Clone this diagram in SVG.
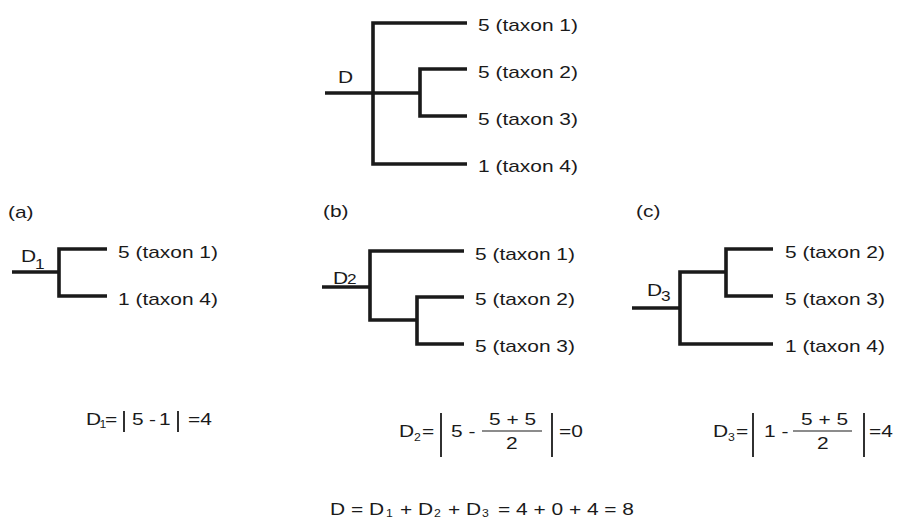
<svg xmlns="http://www.w3.org/2000/svg" width="898" height="518" viewBox="0 0 898 518">
<style>
text{font-family:"Liberation Sans",Arial,sans-serif;font-size:17px;fill:#1a1a1a}
text.sub{font-size:14px}
text.ss{font-size:10px}
.br{fill:none;stroke:#1a1a1a;stroke-width:3.6;stroke-linejoin:miter;stroke-linecap:butt}
.bar{stroke:#1a1a1a;stroke-width:1.8}
.frac{stroke:#1a1a1a;stroke-width:1.2}
</style>
<rect width="898" height="518" fill="#fff"/>
<g id="connectors">
  <path class="br" d="M325,93 H420"/>
  <path class="br" d="M467,23 H373 V164 H467"/>
  <path class="br" d="M467,69 H420 V116 H467"/>
  <path class="br" d="M12,272 H59"/>
  <path class="br" d="M107,249 H59 V296 H107"/>
  <path class="br" d="M322,287 H370"/>
  <path class="br" d="M464,251 H370 V320 H417"/>
  <path class="br" d="M464,297 H417 V344 H464"/>
  <path class="br" d="M632,308 H680"/>
  <path class="br" d="M726,272 H680 V344 H773"/>
  <path class="br" d="M773,249 H726 V296 H773"/>
</g>
<g id="tree-top">
  <text transform="matrix(1.23 0 0 1 338 83)">D</text>
  <text transform="matrix(1.23 0 0 1 478 31)">5 (taxon 1)</text>
  <text transform="matrix(1.23 0 0 1 478 78)">5 (taxon 2)</text>
  <text transform="matrix(1.23 0 0 1 478 125)">5 (taxon 3)</text>
  <text transform="matrix(1.23 0 0 1 478 172)">1 (taxon 4)</text>
</g>
<g id="tree-a">
  <text transform="matrix(1.23 0 0 1 8 218)">(a)</text>
  <text transform="matrix(1.23 0 0 1 21 262)">D</text>
  <text class="sub" transform="matrix(1.23 0 0 1 35 269)">1</text>
  <text transform="matrix(1.23 0 0 1 118 258)">5 (taxon 1)</text>
  <text transform="matrix(1.23 0 0 1 118 305)">1 (taxon 4)</text>
</g>
<g id="tree-b">
  <text transform="matrix(1.23 0 0 1 323 217)">(b)</text>
  <text transform="matrix(1.23 0 0 1 333 284)">D</text>
  <text class="sub" transform="matrix(1.23 0 0 1 347 284)">2</text>
  <text transform="matrix(1.23 0 0 1 475 260)">5 (taxon 1)</text>
  <text transform="matrix(1.23 0 0 1 475 305)">5 (taxon 2)</text>
  <text transform="matrix(1.23 0 0 1 475 352)">5 (taxon 3)</text>
</g>
<g id="tree-c">
  <text transform="matrix(1.23 0 0 1 636 217)">(c)</text>
  <text transform="matrix(1.23 0 0 1 647 296)">D</text>
  <text class="sub" transform="matrix(1.23 0 0 1 661 301)">3</text>
  <text transform="matrix(1.23 0 0 1 785 258)">5 (taxon 2)</text>
  <text transform="matrix(1.23 0 0 1 785 305)">5 (taxon 3)</text>
  <text transform="matrix(1.23 0 0 1 785 352)">1 (taxon 4)</text>
</g>
<g id="formula-a">
  <text transform="matrix(1.23 0 0 1 86 425)">D</text>
  <text class="ss" transform="matrix(1.23 0 0 1 99.5 428)">1</text>
  <text transform="matrix(1.23 0 0 1 105 425)">=</text>
  <line class="bar" x1="124" y1="411" x2="124" y2="432"/>
  <text transform="matrix(1.23 0 0 1 132 425)">5</text>
  <text transform="matrix(1.23 0 0 1 149 425)">-</text>
  <text transform="matrix(1.23 0 0 1 159 425)">1</text>
  <line class="bar" x1="178" y1="411" x2="178" y2="432"/>
  <text transform="matrix(1.23 0 0 1 188 425)">=4</text>
</g>
<g id="formula-b">
  <text transform="matrix(1.23 0 0 1 399 437)">D</text>
  <text class="ss" transform="matrix(1.23 0 0 1 414 441)">2</text>
  <text transform="matrix(1.23 0 0 1 422 437)">=</text>
  <line class="bar" x1="441" y1="413" x2="441" y2="457"/>
  <text transform="matrix(1.23 0 0 1 451 437)">5 -</text>
  <line class="frac" x1="482" y1="431" x2="542" y2="431"/>
  <text transform="matrix(1.23 0 0 1 489 425)">5 + 5</text>
  <text transform="matrix(1.23 0 0 1 506 449)">2</text>
  <line class="bar" x1="552" y1="413" x2="552" y2="457"/>
  <text transform="matrix(1.23 0 0 1 559 437)">=0</text>
</g>
<g id="formula-c">
  <text transform="matrix(1.23 0 0 1 713 437)">D</text>
  <text class="ss" transform="matrix(1.23 0 0 1 728 441)">3</text>
  <text transform="matrix(1.23 0 0 1 736 437)">=</text>
  <line class="bar" x1="753" y1="413" x2="753" y2="457"/>
  <text transform="matrix(1.23 0 0 1 764 437)">1 -</text>
  <line class="frac" x1="793" y1="431" x2="852" y2="431"/>
  <text transform="matrix(1.23 0 0 1 801 425)">5 + 5</text>
  <text transform="matrix(1.23 0 0 1 817 449)">2</text>
  <line class="bar" x1="864" y1="413" x2="864" y2="457"/>
  <text transform="matrix(1.23 0 0 1 869 437)">=4</text>
</g>
<g id="formula-total">
  <text transform="matrix(1.23 0 0 1 330 515)">D = D</text>
  <text class="ss" transform="matrix(1.23 0 0 1 386 517)">1</text>
  <text transform="matrix(1.23 0 0 1 400 515)">+ D</text>
  <text class="ss" transform="matrix(1.23 0 0 1 434 517)">2</text>
  <text transform="matrix(1.23 0 0 1 448 515)">+ D</text>
  <text class="ss" transform="matrix(1.23 0 0 1 482 517)">3</text>
  <text transform="matrix(1.23 0 0 1 498 515)">= 4 + 0 + 4 = 8</text>
</g>
</svg>
